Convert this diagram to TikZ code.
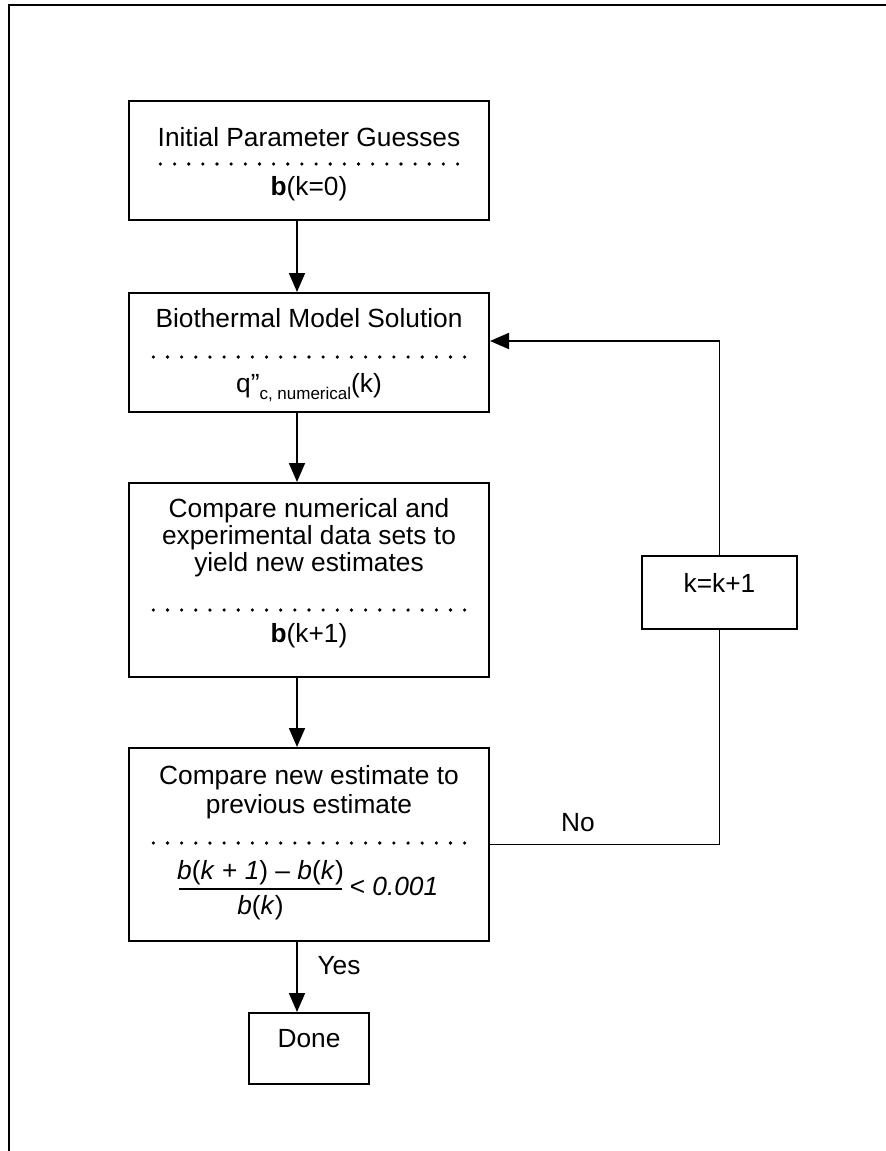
\documentclass[tikz,border=0pt]{standalone}
\usepackage{fontspec}
\setmainfont{Liberation Sans}
\usetikzlibrary{positioning, arrows.meta, calc}

\tikzset{
  stage/.style={draw, line width=2pt, inner sep=0pt, minimum width=360pt},
  txt/.style={anchor=base, inner sep=0pt, font=\fontsize{26.3}{28}\selectfont},
  flow/.style={line width=1.8pt, -{Triangle[length=19pt,width=16pt]}},
  wire/.style={line width=1.8pt},
}

\begin{document}
\begin{tikzpicture}[x=1pt, y=-1pt]
        \useasboundingbox (0,0) rectangle (886,1151);
        \draw [line width=2.2pt] (9,1151) -- (9,5) -- (886,5);

        % boxes
        \node [stage, minimum height=119pt] (init) at (309,160.5) {};
        \node [stage, minimum height=119pt] (model) at (309,352.5) {};
        \node [stage, minimum height=194pt] (compare) at (309,580) {};
        \node [stage, minimum height=193pt] (check) at (309,844.5) {};
        \node [stage, minimum width=120pt, minimum height=71pt] (done) at (309,1048.5) {};
        \node [stage, minimum width=155pt, minimum height=73pt] (incr) at (719.5,592.5) {};

        % texts
        \node [txt] (initA) at (309,146) {Initial Parameter Guesses};
        \node [txt] (initB) at (309,195) {\textbf{b}(k=0)};
        \node [txt] (modelA) at (309,327) {Biothermal Model Solution};
        \node [txt] (modelB) at (309,392) {q”\raisebox{-0.28em}{\fontsize{17}{17}\selectfont c, numerical}(k)};
        \node [txt] (compareA) at (309,517) {Compare numerical and};
        \node [txt] (compareB) at (309,544) {experimental data sets to};
        \node [txt] (compareC) at (309,571) {yield new estimates};
        \node [txt] (compareD) at (309,642) {\textbf{b}(k+1)};
        \node [txt] (checkA) at (309,784) {Compare new estimate to};
        \node [txt] (checkB) at (309,813) {previous estimate};
        \node [txt] (fracnum) at (260.5,879) {\textit{b}(\textit{k} + \textit{1}) – \textit{b}(\textit{k})};
        \node [txt] (fracden) at (260.5,914) {\textit{b}(\textit{k})};
        \node [txt] (limit) at (394,895) {< \textit{0.001}};
        \draw [line width=1.3pt] (179,889) -- (342,889);
        \node [txt] (doneA) at (309,1047) {Done};
        \node [txt] (incrA) at (719.5,592) {k=k+1};
        \node [txt] (no) at (578,831) {No};
        \node [txt] (yes) at (339,974) {Yes};

        % dotted separators
        \foreach \y/\n in {164/21, 357/22, 610/22, 843/22} {%
          \foreach \i in {0,...,\n}
            \fill ({309-\n*7.075+\i*14.15},\y) circle (1.8pt);
        }

        % connectors
        \draw [flow] ([xshift=-12pt]init.south) -- ([xshift=-12pt]model.north);
        \draw [flow] ([xshift=-12pt]model.south) -- ([xshift=-12pt]compare.north);
        \draw [flow] ([xshift=-12pt]compare.south) -- ([xshift=-12pt]check.north);
        \draw [flow] ([xshift=-12pt]check.south) -- ([xshift=-12pt]done.north);
        \draw [wire] (check.east) -| (incr.south);
        \draw [flow] (incr.north) |- ([yshift=11.5pt]model.east);
      \end{tikzpicture}
\end{document}
